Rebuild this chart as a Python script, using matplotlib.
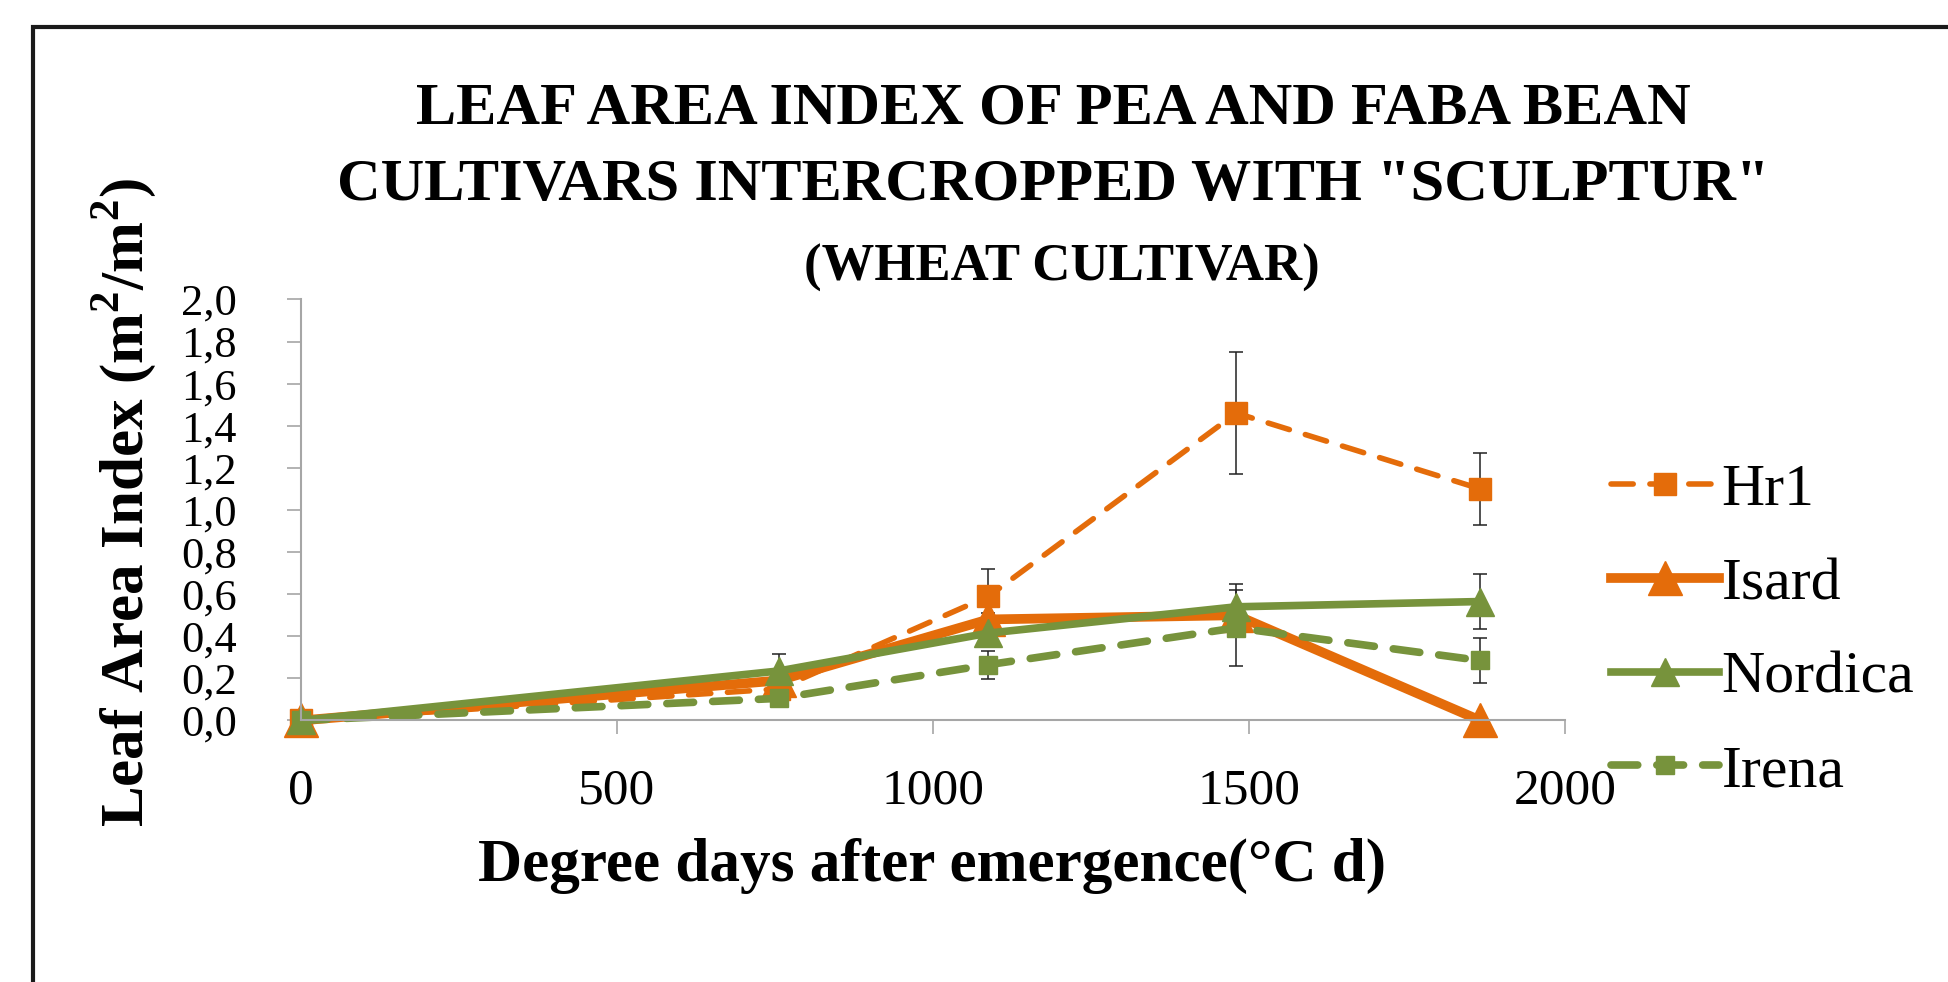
import matplotlib
matplotlib.use('Agg')
import matplotlib.pyplot as plt
from matplotlib.patches import Rectangle

# degree days after emergence
degree_days = [0, 756, 1088, 1480, 1866]

# leaf area index per cultivar, with error bars
hr1 = [0, 0.15, 0.59, 1.46, 1.10]
hr1_err = [0, 0.03, 0.13, 0.29, 0.17]
isard = [0, 0.19, 0.48, 0.50, 0.0]
isard_err = [0, 0.02, 0.03, 0.03, 0]
nordica = [0, 0.235, 0.415, 0.54, 0.565]
nordica_err = [0, 0.08, 0.03, 0.11, 0.13]
irena = [0, 0.105, 0.265, 0.44, 0.285]
irena_err = [0, 0.02, 0.066, 0.18, 0.108]

orange = '#E46C0A'
green = '#77933C'
serif = 'Liberation Serif'

plt.rcParams['mathtext.fontset'] = 'custom'
plt.rcParams['mathtext.rm'] = serif
plt.rcParams['mathtext.bf'] = serif + ':bold'

fig = plt.figure(figsize=(19.48, 9.82), dpi=100)
ax = fig.add_axes([0.1543, 0.2663, 0.8034 - 0.1543, 0.6951 - 0.2663])

# outer chart frame (clipped by figure edge)
fig.patches.append(Rectangle((33 / 1948, -0.2), 2, 1.2 - 27 / 982, transform=fig.transFigure,
                             fill=False, edgecolor='#1a1a1a', linewidth=3))

err_kw = dict(ecolor='#222222', elinewidth=1.1, capsize=5, capthick=1.1, clip_on=False)

ax.errorbar(degree_days, hr1, yerr=hr1_err, color=orange, linestyle=(0, (4, 3)), linewidth=4,
            marker='s', markersize=16, label='Hr1', dash_capstyle='round', **err_kw)
ax.errorbar(degree_days, isard, yerr=isard_err, color=orange, linestyle='-', linewidth=7,
            marker='^', markersize=24, label='Isard', **err_kw)
ax.errorbar(degree_days, nordica, yerr=nordica_err, color=green, linestyle='-', linewidth=5.5,
            marker='^', markersize=20, label='Nordica', **err_kw)
ax.errorbar(degree_days, irena, yerr=irena_err, color=green, linestyle=(0, (3.5, 2.5)), linewidth=5.5,
            marker='s', markersize=13, label='Irena', dash_capstyle='round', **err_kw)

ax.set_xlim(0, 2000)
ax.set_ylim(0, 2.0)
ax.set_xticks([0, 500, 1000, 1500, 2000])
yt = [i * 0.2 for i in range(11)]
ax.set_yticks(yt)
ax.set_yticklabels([f'{v:.1f}'.replace('.', ',') for v in yt])

for s in ['top', 'right']:
    ax.spines[s].set_visible(False)
for s in ['left', 'bottom']:
    ax.spines[s].set_color('#a6a6a6')
    ax.spines[s].set_linewidth(1.5)

ax.tick_params(axis='y', direction='out', length=10, width=1.2, color='#a6a6a6', pad=36, labelsize=32)
ax.tick_params(axis='x', direction='out', length=10, width=1.2, color='#a6a6a6', pad=24, labelsize=37)
for lab in ax.get_xticklabels() + ax.get_yticklabels():
    lab.set_fontfamily(serif)

# titles and axis labels
fig.text(0.5406, 0.889, 'LEAF AREA INDEX OF PEA AND FABA BEAN', ha='center', va='center',
         fontsize=43.5, fontweight='bold', fontfamily=serif)
fig.text(0.5406, 0.811, 'CULTIVARS INTERCROPPED WITH "SCULPTUR"', ha='center', va='center',
         fontsize=43.5, fontweight='bold', fontfamily=serif)
fig.text(0.545, 0.727, '(WHEAT CULTIVAR)', ha='center', va='center',
         fontsize=38, fontweight='bold', fontfamily=serif)
fig.text(124 / 1948, 1 - 502 / 982, 'Leaf Area Index (m$^\\mathbf{2}$/m$^\\mathbf{2}$)', rotation=90,
         ha='center', va='center', fontsize=44, fontweight='bold', fontfamily=serif)
fig.text(0.4784, 0.1181, 'Degree days after emergence(°C d)', ha='center', va='center',
         fontsize=44, fontweight='bold', fontfamily=serif)

handles, labels = ax.get_legend_handles_labels()
handles = [h[0] for h in handles]
leg = fig.legend(handles, labels, loc='center left', bbox_to_anchor=(0.7995, 0.357), frameon=False,
                 handlelength=1.8, handletextpad=0.05, labelspacing=0.65,
                 prop={'family': serif, 'size': 43})

fig.savefig('out.png', dpi=100)
